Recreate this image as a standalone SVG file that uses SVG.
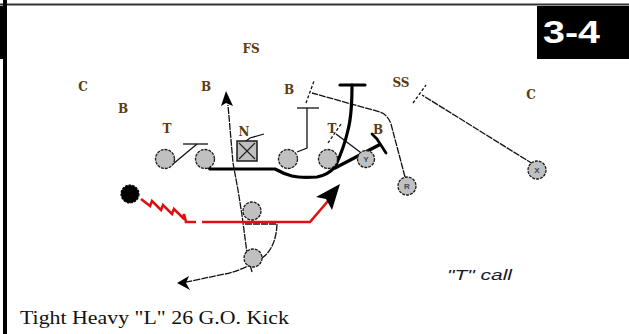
<svg xmlns="http://www.w3.org/2000/svg" width="629" height="334" viewBox="0 0 629 334">
<defs>
<style>
.lbl{font-family:"DejaVu Serif","Liberation Serif",serif;font-weight:bold;font-size:12px;fill:#5a3c10;text-anchor:middle}
.pl{fill:#c0c0c0;stroke:#1a1a1a;stroke-width:1.3;stroke-dasharray:3 1}
.tl{font-family:"Liberation Sans",sans-serif;font-weight:bold;font-size:8px;fill:#3a4a6a;text-anchor:middle}
.thin{fill:none;stroke:#111;stroke-width:1.3}
.route{fill:none;stroke:#111;stroke-width:1.3;stroke-dasharray:7 1}
.dash{fill:none;stroke:#111;stroke-width:1.3;stroke-dasharray:3 2}
.thick{fill:none;stroke:#000;stroke-width:3.2;stroke-linejoin:round;stroke-linecap:round}
.red{fill:none;stroke:#e01010;stroke-width:2.6}
</style>
</defs>
<rect width="629" height="334" fill="#fff"/>
<!-- frame -->
<g id="frame">
<line x1="0" y1="4.5" x2="629" y2="4.5" stroke="#333" stroke-width="2"/>
<rect x="0" y="6" width="7" height="53" fill="#000"/>
<rect x="3" y="0" width="4" height="334" fill="#000"/>
</g>
<g id="badge">
<rect x="537" y="6" width="92" height="53" fill="#000"/>
<text x="543" y="43" font-family="Liberation Sans, sans-serif" font-weight="bold" font-size="32" fill="#fff" textLength="57" lengthAdjust="spacingAndGlyphs">3-4</text>
</g>
<!-- defense labels -->
<g id="defense">
<text class="lbl" x="251" y="53">FS</text>
<text class="lbl" x="83" y="91">C</text>
<text class="lbl" x="123" y="113">B</text>
<text class="lbl" x="206" y="91">B</text>
<text class="lbl" x="289" y="94">B</text>
<text class="lbl" x="401" y="87">SS</text>
<text class="lbl" x="531" y="99">C</text>
<text class="lbl" x="167" y="133">T</text>
<text class="lbl" x="244" y="136">N</text>
<text class="lbl" x="332" y="133">T</text>
<text class="lbl" x="378" y="134">B</text>
</g>
<!-- connectors -->
<g id="connectors">
<!-- left tackle block -->
<line class="thin" x1="173" y1="164" x2="197" y2="144"/>
<line class="thin" x1="183" y1="144" x2="208" y2="144"/>
<!-- center small block -->
<polyline class="thin" points="246,141 250,138 264,134"/>
<!-- guard block -->
<polyline class="thin" points="297,152 307,148 307,108"/>
<line class="thin" x1="297" y1="108" x2="319" y2="108"/>
<!-- Y block on T -->
<line class="thin" x1="360" y1="152" x2="336" y2="134"/>
<line class="dash" x1="328" y1="143" x2="341" y2="124"/>
<!-- R route -->
<path class="route" d="M405,177 L391,124 Q388,115 380,112 L312,93"/>
<line class="dash" x1="306" y1="103" x2="314" y2="81"/>
<!-- X block on SS -->
<line class="route" x1="533" y1="164" x2="422" y2="95"/>
<line class="dash" x1="413" y1="103" x2="426" y2="85"/>
<!-- thick blocking lines -->
<path class="thick" d="M208,166 L210,169 L275,169 Q284,174 292,176 Q300,178 317,177 Q328,175 335,167"/>
<path class="thick" d="M335,167 Q344,148 348,130 Q352,115 352,85"/>
<line class="thick" x1="340" y1="85" x2="365" y2="85"/>
<line class="thick" x1="335" y1="168" x2="379" y2="145"/>
<polyline class="thick" points="372,134 377,139 386,153" style="stroke-width:2.8"/>
<!-- lead path with arrow -->
<polyline class="route" points="252,272 247,253 242,215 238,190 233,163 228,105"/>
<polygon points="226,91 221,106 226,103 233,106" fill="#000"/>
<!-- RB curved route -->
<path class="route" d="M245,224 L277,224 Q276,248 262,258 Q244,270 225,274 Q200,279 182,283"/>
<polygon points="177,283 189,276 186,283 190,290" fill="#000"/>
<!-- red run path -->
<path class="red" d="M141,199 L150,206 L152,201 L161,210 L163,205 L172,214 L174,209 L183,218 L184,214 L186,222 L196,222"/>
<polyline class="red" points="202,222 310,222 328,201"/>
<polygon points="340,184 316,197 326,199 332,210" fill="#000"/>
</g>
<!-- offense -->
<g id="lt"><circle class="pl" cx="165" cy="159" r="9.5"/></g>
<g id="lg"><circle class="pl" cx="205" cy="159" r="9.5"/></g>
<g id="c">
<rect x="237" y="141" width="20" height="20" fill="#c0c0c0" stroke="#1a1a1a" stroke-width="1.5"/>
<path d="M239,143 L255,159 M255,143 L239,159" stroke="#222" stroke-width="1.2"/>
</g>
<g id="rg"><circle class="pl" cx="288" cy="159" r="9.5"/></g>
<g id="rt"><circle class="pl" cx="328" cy="159" r="9.5"/></g>
<g id="y"><circle class="pl" cx="366" cy="159" r="8.5"/><text class="tl" x="366" y="162">Y</text></g>
<g id="r"><circle class="pl" cx="407" cy="186" r="9"/><text class="tl" x="407" y="189">R</text></g>
<g id="x"><circle class="pl" cx="537" cy="170" r="9"/><text class="tl" x="537" y="173">X</text></g>
<g id="qb"><circle class="pl" cx="252" cy="211" r="9"/></g>
<g id="rb"><circle class="pl" cx="253" cy="258" r="9"/></g>
<g id="ball"><circle cx="130" cy="194" r="9" fill="#000" stroke="#000" stroke-width="1.2" stroke-dasharray="2.5 1.2"/></g>
<!-- captions -->
<text x="447" y="280" font-family="Liberation Sans, sans-serif" font-style="italic" font-size="14" fill="#1a1a2a" textLength="65" lengthAdjust="spacingAndGlyphs">"T" call</text>
<text x="20" y="324" font-family="Liberation Serif, serif" font-size="19" fill="#111" textLength="269" lengthAdjust="spacingAndGlyphs">Tight Heavy "L" 26 G.O. Kick</text>
</svg>
